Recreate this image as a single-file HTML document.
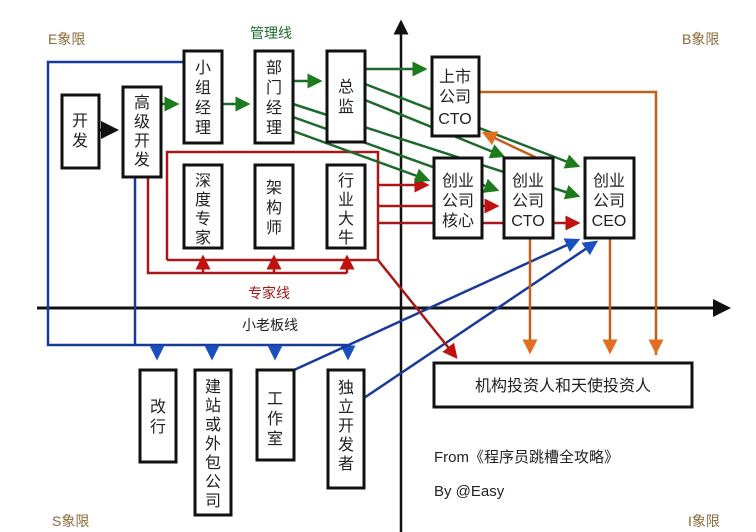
<!DOCTYPE html>
<html><head><meta charset="utf-8"><style>
body{margin:0;background:#fff}
svg{display:block}
text{font-family:"Liberation Sans","Noto Sans CJK SC",sans-serif}
</style></head><body>
<svg width="756" height="532" viewBox="0 0 756 532" xmlns="http://www.w3.org/2000/svg">
<defs>
<marker id="ag" markerWidth="6" markerHeight="6" refX="5" refY="3" orient="auto" markerUnits="strokeWidth"><path d="M0,0L6,3L0,6z" fill="#1d7a1d"/></marker>
<marker id="ar" markerWidth="6" markerHeight="6" refX="5" refY="3" orient="auto" markerUnits="strokeWidth"><path d="M0,0L6,3L0,6z" fill="#c01010"/></marker>
<marker id="ab" markerWidth="6" markerHeight="6" refX="5" refY="3" orient="auto" markerUnits="strokeWidth"><path d="M0,0L6,3L0,6z" fill="#1a4fc0"/></marker>
<marker id="ao" markerWidth="6" markerHeight="6" refX="5" refY="3" orient="auto" markerUnits="strokeWidth"><path d="M0,0L6,3L0,6z" fill="#e07020"/></marker>
<marker id="ak" markerWidth="6" markerHeight="6" refX="5" refY="3" orient="auto" markerUnits="strokeWidth"><path d="M0,0L6,3L0,6z" fill="#111"/></marker>
</defs>
<rect width="756" height="532" fill="#fff"/>
<line x1="401" y1="532" x2="401" y2="22" stroke="#111" stroke-width="2.5" marker-end="url(#ak)"/>
<line x1="37" y1="308" x2="728" y2="308" stroke="#111" stroke-width="3" marker-end="url(#ak)"/>
<g font-size="14" fill="#8a6a3a">
<text x="48" y="44">E象限</text><text x="682" y="44">B象限</text>
<text x="52" y="526">S象限</text><text x="688" y="526">I象限</text>
</g>
<text x="250" y="38" font-size="14" fill="#1d6a2d">管理线</text>
<text x="248" y="298" font-size="14" fill="#a01818">专家线</text>
<text x="242" y="330" font-size="14" fill="#222">小老板线</text>
<g stroke="#1a3a9a" stroke-width="2.5" fill="none">
<polyline points="184,62 48,62 48,345 348,345"/>
<line x1="135" y1="177" x2="135" y2="345"/>
<line x1="157" y1="345" x2="157" y2="358" marker-end="url(#ab)"/>
<line x1="212" y1="345" x2="212" y2="358" marker-end="url(#ab)"/>
<line x1="275" y1="345" x2="275" y2="358" marker-end="url(#ab)"/>
<line x1="348" y1="345" x2="348" y2="358" marker-end="url(#ab)"/>
<line x1="294" y1="370" x2="578" y2="240" marker-end="url(#ab)"/>
<line x1="364" y1="398" x2="596" y2="242" marker-end="url(#ab)"/>
</g>
<g stroke="#a81818" stroke-width="2.5" fill="none">
<polyline points="167,260 167,152 378,152 378,260 167,260"/>
<polyline points="148,177 148,273 347,273"/>
<line x1="203" y1="273" x2="203" y2="257" marker-end="url(#ar)"/>
<line x1="274" y1="273" x2="274" y2="257" marker-end="url(#ar)"/>
<line x1="347" y1="273" x2="347" y2="257" marker-end="url(#ar)"/>
<line x1="378" y1="185" x2="427" y2="185" marker-end="url(#ar)"/>
<line x1="378" y1="206" x2="497" y2="206" marker-end="url(#ar)"/>
<line x1="378" y1="223" x2="578" y2="223" marker-end="url(#ar)"/>
<line x1="378" y1="260" x2="456" y2="357" marker-end="url(#ar)"/>
</g>
<g stroke="#1d6a2d" stroke-width="2.5" fill="none">
<line x1="161" y1="104" x2="177" y2="104" marker-end="url(#ag)"/>
<line x1="222" y1="104" x2="248" y2="104" marker-end="url(#ag)"/>
<line x1="293" y1="81" x2="320" y2="81" marker-end="url(#ag)"/>
<line x1="365" y1="69" x2="425" y2="69" marker-end="url(#ag)"/>
<line x1="365" y1="84" x2="578" y2="166" marker-end="url(#ag)"/>
<line x1="365" y1="100" x2="503" y2="156" marker-end="url(#ag)"/>
<line x1="293" y1="104" x2="578" y2="196" marker-end="url(#ag)"/>
<line x1="293" y1="117" x2="497" y2="190" marker-end="url(#ag)"/>
<line x1="293" y1="131" x2="428" y2="180" marker-end="url(#ag)"/>
</g>
<line x1="99" y1="130" x2="116" y2="130" stroke="#111" stroke-width="3" marker-end="url(#ak)"/>
<g stroke="#c0601a" stroke-width="2.5" fill="none">
<polyline points="479,92 656,92 656,355"/>
<line x1="656" y1="340" x2="656" y2="352" marker-end="url(#ao)"/>
<line x1="530" y1="238" x2="530" y2="352" marker-end="url(#ao)"/>
<line x1="610" y1="238" x2="610" y2="352" marker-end="url(#ao)"/>
<line x1="537" y1="158" x2="484" y2="133" marker-end="url(#ao)"/>
</g>
<g fill="#fff" stroke="#111" stroke-width="3">
<rect x="62" y="95" width="37" height="73"/>
<rect x="123" y="87" width="38" height="90"/>
<rect x="184" y="51" width="38" height="92"/>
<rect x="255" y="51" width="38" height="92"/>
<rect x="327" y="51" width="38" height="91"/>
<rect x="184" y="165" width="38" height="83"/>
<rect x="255" y="165" width="38" height="83"/>
<rect x="327" y="165" width="38" height="83"/>
<rect x="432" y="57" width="47" height="79"/>
<rect x="434" y="158" width="48" height="80"/>
<rect x="504" y="158" width="49" height="80"/>
<rect x="585" y="158" width="49" height="80"/>
<rect x="140" y="370" width="36" height="92"/>
<rect x="195" y="370" width="36" height="145"/>
<rect x="257" y="370" width="37" height="90"/>
<rect x="328" y="370" width="36" height="118"/>
<rect x="434" y="363" width="258" height="44"/>
</g>
<g font-size="16" fill="#222" text-anchor="middle">
<text x="80" y="126">开</text><text x="80" y="146">发</text>
<text x="142" y="108">高</text><text x="142" y="127">级</text><text x="142" y="146">开</text><text x="142" y="165">发</text>
<text x="203" y="73">小</text><text x="203" y="93">组</text><text x="203" y="113">经</text><text x="203" y="133">理</text>
<text x="274" y="73">部</text><text x="274" y="93">门</text><text x="274" y="113">经</text><text x="274" y="133">理</text>
<text x="346" y="92">总</text><text x="346" y="112">监</text>
<text x="203" y="186">深</text><text x="203" y="205">度</text><text x="203" y="224">专</text><text x="203" y="243">家</text>
<text x="274" y="193">架</text><text x="274" y="213">构</text><text x="274" y="233">师</text>
<text x="346" y="186">行</text><text x="346" y="205">业</text><text x="346" y="224">大</text><text x="346" y="243">牛</text>
<text x="158" y="412">改</text><text x="158" y="432">行</text>
<text x="213" y="392">建</text><text x="213" y="411">站</text><text x="213" y="430">或</text><text x="213" y="449">外</text><text x="213" y="468">包</text><text x="213" y="487">公</text><text x="213" y="506">司</text>
<text x="275" y="404">工</text><text x="275" y="424">作</text><text x="275" y="444">室</text>
<text x="346" y="393">独</text><text x="346" y="412">立</text><text x="346" y="431">开</text><text x="346" y="450">发</text><text x="346" y="469">者</text>
</g>
<g font-size="16" fill="#222" text-anchor="middle">
<text x="455" y="82">上市</text><text x="455" y="102">公司</text><text x="455" y="124">CTO</text>
<text x="458" y="186">创业</text><text x="458" y="206">公司</text><text x="458" y="226">核心</text>
<text x="528" y="186">创业</text><text x="528" y="206">公司</text><text x="528" y="226">CTO</text>
<text x="609" y="186">创业</text><text x="609" y="206">公司</text><text x="609" y="226">CEO</text>
<text x="563" y="391">机构投资人和天使投资人</text>
</g>
<text x="434" y="462" font-size="15" fill="#222">From《程序员跳槽全攻略》</text>
<text x="434" y="496" font-size="15" fill="#222">By @Easy</text>
</svg>
</body></html>
